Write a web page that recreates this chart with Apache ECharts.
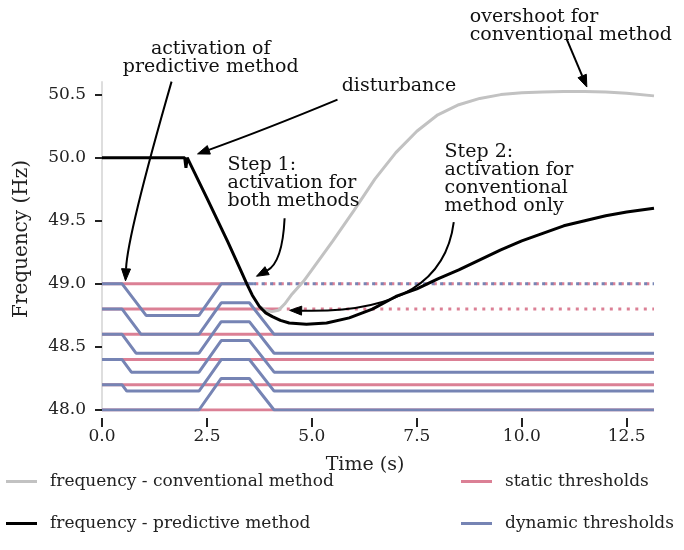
<!DOCTYPE html>
<html><head><meta charset="utf-8">
<script src="https://cdn.jsdelivr.net/npm/echarts@6/dist/echarts.min.js"></script>
<style>html,body{margin:0;padding:0;background:#fff}#c{width:684px;height:550px}</style>
</head><body><div id="c"></div>
<script>
// ---- data ----
const xTicks = [0, 2.5, 5, 7.5, 10, 12.5];
const yTicks = [48.0, 48.5, 49.0, 49.5, 50.0, 50.5];

const predictive = [[0,50.0],[1.97,50.0],[2.0,49.92],[2.03,50.0],[2.07,49.99],[2.5,49.68],[3.0,49.33],[3.3,49.11],[3.45,49.0],[3.58,48.91],[3.75,48.82],[3.9,48.77],[4.06,48.74],[4.25,48.71],[4.46,48.69],[4.87,48.68],[5.35,48.69],[5.89,48.73],[6.44,48.8],[7.0,48.9],[7.5,48.96],[8.0,49.04],[8.5,49.11],[9.0,49.19],[9.5,49.27],[10.0,49.34],[10.5,49.40],[11.0,49.46],[11.5,49.50],[12.0,49.54],[12.5,49.57],[13.15,49.60]];
const conventional = [[3.75,48.82],[3.9,48.79],[4.05,48.78],[4.2,48.79],[4.35,48.84],[4.53,48.92],[4.8,49.02],[5.0,49.11],[5.5,49.34],[6.0,49.58],[6.5,49.83],[7.0,50.04],[7.5,50.21],[8.0,50.34],[8.5,50.42],[9.0,50.47],[9.5,50.50],[10.0,50.515],[10.5,50.52],[11.0,50.525],[11.5,50.525],[12.0,50.52],[12.5,50.51],[13.15,50.49]];

const staticLevels = [49.0, 48.8, 48.6, 48.4, 48.2, 48.0];
const staticSolidEnd = [3.45, 4.2, 13.15, 13.15, 13.15, 13.15];
const tEnd = 13.15;

const dynamic1 = [[0,49.0],[0.48,49.0],[1.05,48.75],[2.31,48.75],[2.84,49.0],[3.6,49.0]];
const dynamic1Dotted = [[3.6,49.0],[13.15,49.0]];
const dynamic2 = [[0,48.8],[0.48,48.8],[0.93,48.6],[2.31,48.6],[2.84,48.85],[3.51,48.85],[4.1,48.6],[13.15,48.6]];
const dynamic3 = [[0,48.6],[0.48,48.6],[0.81,48.45],[2.31,48.45],[2.84,48.7],[3.51,48.7],[4.1,48.45],[13.15,48.45]];
const dynamic4 = [[0,48.4],[0.48,48.4],[0.7,48.3],[2.31,48.3],[2.84,48.55],[3.51,48.55],[4.1,48.3],[13.15,48.3]];
const dynamic5 = [[0,48.2],[0.48,48.2],[0.59,48.15],[2.31,48.15],[2.84,48.4],[3.51,48.4],[4.1,48.15],[13.15,48.15]];
const dynamic6 = [[0,48.0],[2.31,48.0],[2.84,48.25],[3.51,48.25],[4.1,48.0],[13.15,48.0]];

const annotations = [
  {text:'activation of\npredictive method', at:[2.59,50.79], align:'center'},
  {text:'disturbance', at:[5.71,50.57], align:'left'},
  {text:'Step 1:\nactivation for\nboth methods', at:[2.99,49.80], align:'left'},
  {text:'Step 2:\nactivation for\nconventional\nmethod only', at:[8.16,49.83], align:'left'},
  {text:'overshoot for\nconventional method', at:[8.76,51.04], align:'left'}
];
const arrows = [
  {from:[1.657,50.603], ctrl:[0.608,49.389], to:[0.56,49.024]},
  {from:[5.61,50.46], ctrl:[3.87,50.22], to:[2.276,50.03]},
  {from:[4.35,49.52], ctrl:[4.30,49.17], to:[3.68,49.06]},
  {from:[8.38,49.49], ctrl:[8.10,48.76], to:[4.47,48.79]},
  {from:[11.07,50.94], ctrl:[11.31,50.75], to:[11.55,50.56]}
];

// ---- style ----
const FONT = 'DejaVu Serif';
const C_STATIC = '#db8095', C_DYN = '#7684b4', C_CONV = '#c2c2c2', C_PRED = '#000000';

const series = [];
staticLevels.forEach((lv, i) => {
  series.push({name:'static thresholds', type:'line', data:[[0,lv],[staticSolidEnd[i],lv]], showSymbol:false, symbol:'none', z:1,
    lineStyle:{color:C_STATIC, width:3}, itemStyle:{color:C_STATIC}});
  if (staticSolidEnd[i] < tEnd) {
    series.push({name:'static thresholds', type:'line', data:[[staticSolidEnd[i],lv],[tEnd,lv]], showSymbol:false, symbol:'none', z:1,
      lineStyle:{color:C_STATIC, width:3, type:[3,5.5]}, itemStyle:{color:C_STATIC}});
  }
});
[dynamic1, dynamic2, dynamic3, dynamic4, dynamic5, dynamic6].forEach(d => {
  series.push({name:'dynamic thresholds', type:'line', data:d, showSymbol:false, symbol:'none', z:2,
    lineStyle:{color:C_DYN, width:3}, itemStyle:{color:C_DYN}});
});
series.push({name:'dynamic thresholds', type:'line', data:dynamic1Dotted, showSymbol:false, symbol:'none', z:2,
  lineStyle:{color:C_DYN, width:3, type:[3,5.5]}, itemStyle:{color:C_DYN}});
series.push({name:'frequency - conventional method', type:'line', data:conventional, showSymbol:false, symbol:'none', z:3,
  lineStyle:{color:C_CONV, width:3}, itemStyle:{color:C_CONV}});
series.push({name:'frequency - predictive method', type:'line', data:predictive, showSymbol:false, symbol:'none', z:4,
  lineStyle:{color:C_PRED, width:3}, itemStyle:{color:C_PRED}});

const legendText = {fontSize:17, fontFamily:FONT, color:'#222', padding:[0,0,0,8]};
const chart = echarts.init(document.getElementById('c'), null, {renderer:'canvas'});
chart.setOption({
  animation:false,
  backgroundColor:'#fff',
  textStyle:{fontFamily:FONT},
  grid:{left:102, right:30, top:82, bottom:140, containLabel:false},
  xAxis:{type:'value', min:0, max:tEnd, interval:2.5, offset:8,
    axisLine:{show:false},
    axisTick:{show:true, length:9, customValues:xTicks, lineStyle:{color:'#222', width:2}},
    axisLabel:{customValues:xTicks, formatter:v=>v.toFixed(1), fontSize:17, color:'#222', margin:10, fontFamily:FONT},
    splitLine:{show:false},
    name:'Time (s)', nameLocation:'middle', nameGap:38,
    nameTextStyle:{fontSize:19, color:'#222', fontFamily:FONT, padding:[0,26,0,0]}},
  yAxis:{type:'value', min:48, max:50.6, interval:0.5,
    axisLine:{show:true, lineStyle:{color:'#dedede', width:2}},
    axisTick:{show:true, length:7, customValues:yTicks, lineStyle:{color:'#222', width:2}},
    axisLabel:{customValues:yTicks, formatter:v=>v.toFixed(1), fontSize:17, color:'#222', margin:16, fontFamily:FONT},
    splitLine:{show:false},
    name:'Frequency (Hz)', nameLocation:'middle', nameGap:70, nameRotate:90,
    nameTextStyle:{fontSize:20, color:'#222', fontFamily:FONT, padding:[0,0,0,14]}},
  legend:[
    {data:['frequency - conventional method','frequency - predictive method'], orient:'vertical', left:6, top:473, padding:0,
     itemWidth:31, itemHeight:3, itemGap:25, icon:'rect', selectedMode:false, textStyle:legendText},
    {data:['static thresholds','dynamic thresholds'], orient:'vertical', left:461, top:473, padding:0,
     itemWidth:31, itemHeight:3, itemGap:25, icon:'rect', selectedMode:false, textStyle:legendText}
  ],
  series:series
});

// ---- annotations (data coords -> pixels) ----
const px = p => chart.convertToPixel({gridIndex:0}, p);
const graphics = [];
annotations.forEach(a => {
  const p = px(a.at);
  graphics.push({type:'text', x:p[0], y:p[1], z:100,
    style:{text:a.text, fill:'#111', fontSize:19, fontFamily:FONT, lineHeight:18,
      align:a.align, textAlign:a.align, verticalAlign:'middle', textVerticalAlign:'middle'}});
});
arrows.forEach(a => {
  const s = px(a.from), c = px(a.ctrl), e = px(a.to);
  let dx = e[0]-c[0], dy = e[1]-c[1];
  const L = Math.hypot(dx, dy); dx /= L; dy /= L;
  const hl = 12, hw = 4.5;
  const bx = e[0]-hl*dx, by = e[1]-hl*dy;
  graphics.push({type:'bezierCurve', z:100,
    shape:{x1:s[0], y1:s[1], cpx1:c[0], cpy1:c[1], x2:bx, y2:by},
    style:{stroke:'#000', lineWidth:2, fill:null}});
  graphics.push({type:'polygon', z:100,
    shape:{points:[[e[0],e[1]],[bx-hw*dy, by+hw*dx],[bx+hw*dy, by-hw*dx]]},
    style:{fill:'#000', stroke:'#000', lineWidth:1}});
});
chart.setOption({graphic:graphics});
</script>
</body></html>
